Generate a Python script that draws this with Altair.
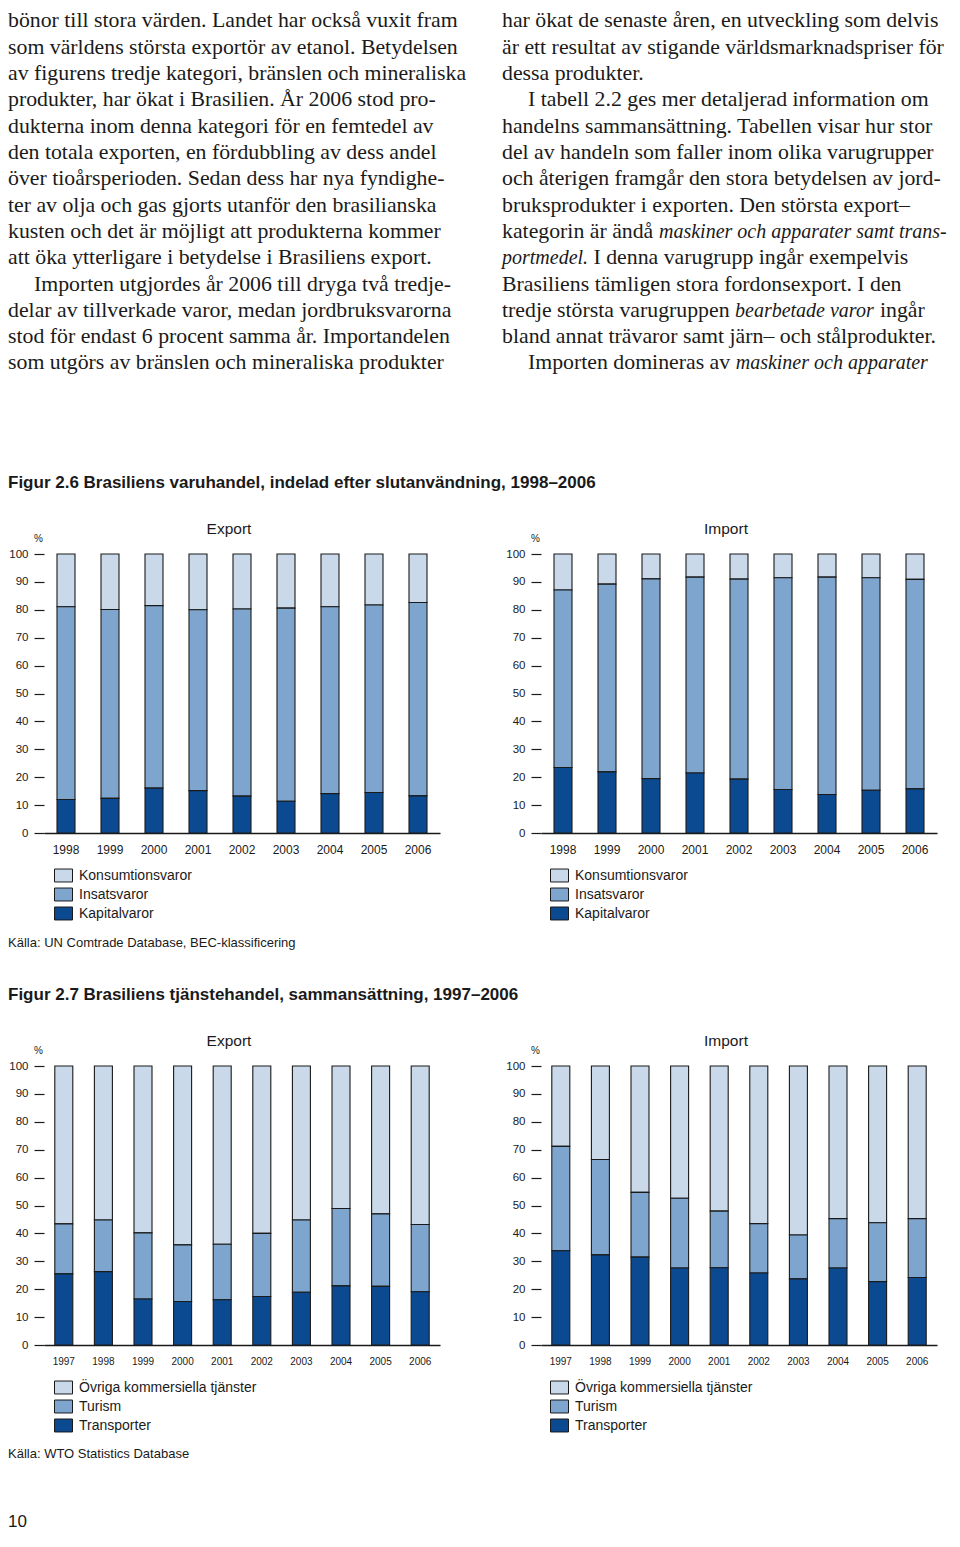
import altair as alt
import pandas as pd

SERIF = "Liberation Serif"
SANS = "Liberation Sans"
INK = "#1a1a1a"

# ---------------- body text ----------------
LEFT_LINES = [
    "bönor till stora värden. Landet har också vuxit fram",
    "som världens största exportör av etanol. Betydelsen",
    "av figurens tredje kategori, bränslen och mineraliska",
    "produkter, har ökat i Brasilien. År 2006 stod pro-",
    "dukterna inom denna kategori för en femtedel av",
    "den totala exporten, en fördubbling av dess andel",
    "över tioårsperioden. Sedan dess har nya fyndighe-",
    "ter av olja och gas gjorts utanför den brasilianska",
    "kusten och det är möjligt att produkterna kommer",
    "att öka ytterligare i betydelse i Brasiliens export.",
    "Importen utgjordes år 2006 till dryga två tredje-",
    "delar av tillverkade varor, medan jordbruksvarorna",
    "stod för endast 6 procent samma år. Importandelen",
    "som utgörs av bränslen och mineraliska produkter",
]
RIGHT_LINES = [
    "har ökat de senaste åren, en utveckling som delvis",
    "är ett resultat av stigande världsmarknadspriser för",
    "dessa produkter.",
    "I tabell 2.2 ges mer detaljerad information om",
    "handelns sammansättning. Tabellen visar hur stor",
    "del av handeln som faller inom olika varugrupper",
    "och återigen framgår den stora betydelsen av jord-",
    "bruksprodukter i exporten. Den största export–",
    [("kategorin är ändå", "normal"), ("maskiner och apparater samt trans-", "italic")],
    [("portmedel.", "italic"), ("I denna varugrupp ingår exempelvis", "normal")],
    "Brasiliens tämligen stora fordonsexport. I den",
    [("tredje största varugruppen", "normal"), ("bearbetade varor", "italic"), ("ingår", "normal")],
    "bland annat trävaror samt järn– och stålprodukter.",
    [("Importen domineras av", "normal"), ("maskiner och apparater", "italic")],
]
INDENTED = {(0, 10), (1, 3), (1, 13)}
INDENT = 26
SEGMENT_DX = {(1, 8, 1): 157, (1, 9, 1): 91.5, (1, 11, 1): 233, (1, 11, 2): 378, (1, 13, 1): 207.7}
BODY_SIZE = 21.8
ITALIC_SIZE = 20

FIG_26_TITLE = "Figur 2.6 Brasiliens varuhandel, indelad efter slutanvändning, 1998–2006"
FIG_27_TITLE = "Figur 2.7 Brasiliens tjänstehandel, sammansättning, 1997–2006"
SOURCE_26 = "Källa: UN Comtrade Database, BEC-klassificering"
SOURCE_27 = "Källa: WTO Statistics Database"
PAGE_NUMBER = "10"

# ---------------- figure 2.6 ----------------
YEARS_26 = ["1998", "1999", "2000", "2001", "2002", "2003", "2004", "2005", "2006"]
CATS_26 = ["Konsumtionsvaror", "Insatsvaror", "Kapitalvaror"]
EXP26_KONSUM = [18.9, 19.9, 18.5, 20.0, 19.7, 19.4, 18.9, 18.3, 17.4]
EXP26_INSATS = [69.1, 67.7, 65.4, 64.8, 67.1, 69.2, 67.0, 67.2, 69.3]
EXP26_KAPITAL = [12.0, 12.4, 16.1, 15.2, 13.2, 11.4, 14.1, 14.5, 13.3]
IMP26_KONSUM = [12.9, 10.8, 8.9, 8.3, 9.0, 8.5, 8.3, 8.5, 9.1]
IMP26_INSATS = [63.6, 67.3, 71.6, 70.2, 71.7, 75.9, 77.9, 76.2, 75.1]
IMP26_KAPITAL = [23.5, 21.9, 19.5, 21.5, 19.3, 15.6, 13.8, 15.3, 15.8]

# ---------------- figure 2.7 ----------------
YEARS_27 = ["1997", "1998", "1999", "2000", "2001", "2002", "2003", "2004", "2005", "2006"]
CATS_27 = ["Övriga kommersiella tjänster", "Turism", "Transporter"]
EXP27_OVRIGA = [56.6, 55.2, 59.8, 64.1, 63.9, 60.0, 55.2, 51.1, 53.0, 56.8]
EXP27_TURISM = [17.9, 18.5, 23.7, 20.3, 19.9, 22.6, 25.9, 27.7, 26.0, 24.1]
EXP27_TRANSPORT = [25.5, 26.3, 16.5, 15.6, 16.2, 17.4, 18.9, 21.2, 21.0, 19.1]
IMP27_OVRIGA = [28.8, 33.5, 45.3, 47.4, 52.0, 56.5, 60.6, 54.7, 56.2, 54.7]
IMP27_TURISM = [37.4, 34.2, 23.2, 25.0, 20.3, 17.7, 15.7, 17.7, 21.1, 21.1]
IMP27_TRANSPORT = [33.8, 32.3, 31.5, 27.6, 27.7, 25.8, 23.7, 27.6, 22.7, 24.2]

COLORS = ["#c9d9ea", "#7da5cd", "#0b4a91"]
Y_TICKS = list(range(0, 101, 10))
RECT = "M-1,-0.72L1,-0.72L1,0.72L-1,0.72Z"

PLOT_W = 396
COL_GAP = 101

# ---------------- text block ----------------
Y_TEXT = alt.Y("line:Q", scale=alt.Scale(domain=[-0.627, 13.631], reverse=True,
                                         nice=False, zero=False), axis=None)


def text_column(col, lines, x0):
    groups = {}
    for li, line in enumerate(lines):
        segs = [(line, "normal")] if isinstance(line, str) else line
        for k, (txt, style) in enumerate(segs):
            dx = SEGMENT_DX.get((col, li, k), 0)
            if (col, li) in INDENTED:
                dx += INDENT
            groups.setdefault((dx, style), []).append({"line": li, "text": txt})
    layers = []
    for (dx, style), rows in groups.items():
        layers.append(
            alt.Chart(pd.DataFrame(rows)).mark_text(
                align="left", baseline="alphabetic", font=SERIF,
                fontSize=ITALIC_SIZE if style == "italic" else BODY_SIZE,
                fontStyle=style, dx=dx, color=INK
            ).encode(x=alt.value(x0), y=Y_TEXT, text="text:N")
        )
    return alt.layer(*layers).properties(width=PLOT_W, height=375)


def label(text, y, size, weight="normal", baseline="middle"):
    return alt.Chart(pd.DataFrame({"t": [text]})).mark_text(
        align="left", baseline=baseline, font=SANS, fontSize=size,
        fontWeight=weight, color=INK
    ).encode(text="t:N", x=alt.value(-36), y=alt.value(y))


def blank(h):
    return alt.Chart(pd.DataFrame({"t": [""]})).mark_text().encode(
        text="t:N").properties(width=PLOT_W, height=h)


def stacked(years, cats, series, title, xfs, xpad, legend_x):
    rows = []
    for ci, cat in enumerate(cats):
        for yr, v in zip(years, series[ci]):
            rows.append({"year": yr, "cat": cat, "value": v, "ord": len(cats) - 1 - ci})
    df = pd.DataFrame(rows)
    step = PLOT_W / len(years)
    pin = 1 - 18 / step
    return alt.Chart(df).mark_bar(stroke=INK, strokeWidth=1.1).encode(
        x=alt.X("year:O", sort=years,
                scale=alt.Scale(paddingInner=pin, paddingOuter=pin / 2),
                axis=alt.Axis(title=None, labelAngle=0, ticks=False, tickSize=0,
                              labelPadding=xpad, labelFontSize=xfs, labelFont=SANS,
                              labelColor=INK, domainColor=INK, domainWidth=1.5)),
        y=alt.Y("value:Q", stack="zero",
                scale=alt.Scale(domain=[0, 100], nice=False),
                axis=alt.Axis(values=Y_TICKS, grid=False, domain=False, tickSize=10,
                              tickColor=INK, tickWidth=1.2, labelPadding=6,
                              labelFontSize=11.5, labelFont=SANS, labelColor=INK,
                              title="%", titleAngle=0, titleX=-6, titleY=-16,
                              titleFontSize=10, titleFontWeight="normal", titleFont=SANS,
                              titleAlign="center", titleBaseline="middle", titleColor=INK)),
        fill=alt.Fill("cat:N", sort=cats,
                      scale=alt.Scale(domain=cats, range=COLORS),
                      legend=alt.Legend(orient="none", legendX=legend_x, legendY=312,
                                        title=None, symbolType=RECT, symbolSize=324,
                                        symbolStrokeColor=INK, symbolStrokeWidth=1,
                                        labelFontSize=14, labelFont=SANS, labelColor=INK,
                                        labelOffset=6, labelLimit=400, rowPadding=1,
                                        padding=0)),
        order=alt.Order("ord:Q", sort="ascending"),
    ).properties(
        width=PLOT_W, height=279,
        title=alt.TitleParams(title, fontSize=15.5, font=SANS, fontWeight="normal",
                              anchor="middle", frame="group", dx=-13, offset=-4, color=INK),
    )


body_left = text_column(0, LEFT_LINES, -36)
body_right = text_column(1, RIGHT_LINES, -39)

exp26 = stacked(YEARS_26, CATS_26, [EXP26_KONSUM, EXP26_INSATS, EXP26_KAPITAL], "Export", 12, 11.5, 10)
imp26 = stacked(YEARS_26, CATS_26, [IMP26_KONSUM, IMP26_INSATS, IMP26_KAPITAL], "Import", 12, 11.5, 9)
exp27 = stacked(YEARS_27, CATS_27, [EXP27_OVRIGA, EXP27_TURISM, EXP27_TRANSPORT], "Export", 10, 11, 10)
imp27 = stacked(YEARS_27, CATS_27, [IMP27_OVRIGA, IMP27_TURISM, IMP27_TRANSPORT], "Import", 10, 11, 9)

gap1 = label(FIG_26_TITLE, 96.5, 17, "bold").properties(width=PLOT_W, height=168)
gap2 = alt.layer(
    label(SOURCE_26, 110, 13),
    label(FIG_27_TITLE, 161.5, 17, "bold"),
).properties(width=PLOT_W, height=233)
gap3 = alt.layer(
    label(SOURCE_27, 109, 13),
    label(PAGE_NUMBER, 182, 17, baseline="alphabetic"),
).properties(width=PLOT_W, height=184)

chart = alt.concat(
    body_left, body_right,
    gap1, blank(168),
    exp26, imp26,
    gap2, blank(233),
    exp27, imp27,
    gap3, blank(184),
    columns=2, spacing={"row": 0, "column": COL_GAP}, bounds="flush",
).resolve_scale(
    fill="independent", x="independent", y="independent"
).resolve_legend(fill="independent").configure_view(stroke=None).properties(
    padding={"left": 0, "top": 2, "right": 0, "bottom": 0}
)

chart.save("out.html", embed_options={"renderer": "svg", "actions": False})
